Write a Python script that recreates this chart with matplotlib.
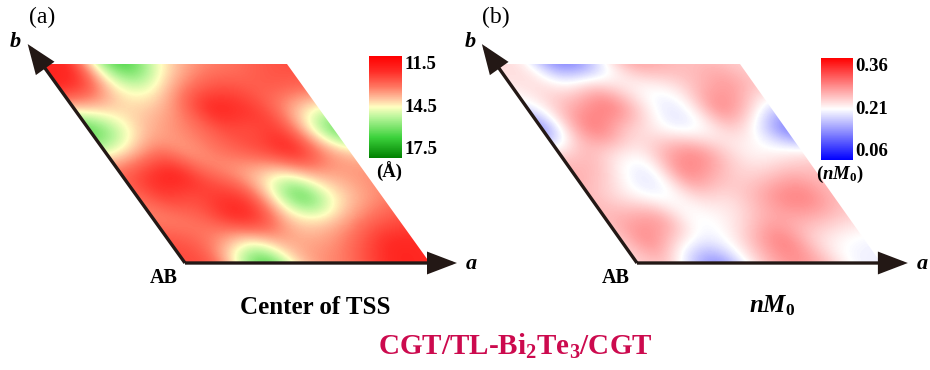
import numpy as np
import matplotlib
matplotlib.use("Agg")
import matplotlib.pyplot as plt
from matplotlib.colors import LinearSegmentedColormap, Normalize
from matplotlib.transforms import Affine2D
from matplotlib.patches import Polygon

plt.rcParams['font.family'] = ['Liberation Serif', 'DejaVu Serif']
plt.rcParams['mathtext.fontset'] = 'custom'
plt.rcParams['mathtext.it'] = 'Liberation Serif:italic:bold'
plt.rcParams['mathtext.rm'] = 'Liberation Serif:bold'
plt.rcParams['mathtext.bf'] = 'Liberation Serif:bold'

# values on a 10x10 grid of the rhombic cell, rows = b index (bottom -> top), cols = a index
tss_center = np.array([
    [12.8, 12.8, 15.0, 16.8, 14.3, 13.5, 13.3, 12.5, 12.2, 12.4],
    [12.8, 13.0, 13.5, 14.5, 14.0, 13.8, 13.6, 13.0, 12.2, 12.3],
    [13.5, 13.5, 13.0, 12.0, 12.5, 14.3, 14.3, 13.8, 13.2, 12.8],
    [13.2, 12.4, 13.0, 12.6, 12.4, 14.5, 16.8, 14.8, 14.0, 13.5],
    [13.0, 12.3, 11.9, 13.0, 13.6, 14.0, 14.5, 14.0, 13.8, 13.5],
    [14.8, 14.0, 13.1, 13.8, 13.3, 13.0, 12.5, 12.0, 13.5, 14.0],
    [16.6, 15.3, 14.0, 13.5, 13.3, 12.8, 13.0, 12.5, 14.3, 16.5],
    [14.0, 14.2, 14.3, 14.0, 13.2, 12.0, 12.3, 12.8, 13.8, 14.5],
    [12.0, 12.5, 14.5, 15.0, 14.0, 13.2, 12.8, 13.0, 12.8, 13.0],
    [12.5, 12.0, 15.0, 16.8, 15.0, 14.0, 13.5, 13.3, 13.0, 12.8],
])

nm0 = np.array([
    [0.235, 0.25, 0.17, 0.12, 0.21, 0.262, 0.275, 0.25, 0.198, 0.205],
    [0.235, 0.30, 0.235, 0.198, 0.21, 0.262, 0.30, 0.235, 0.21, 0.198],
    [0.25, 0.262, 0.29, 0.21, 0.205, 0.225, 0.262, 0.262, 0.25, 0.235],
    [0.25, 0.22, 0.198, 0.21, 0.235, 0.22, 0.25, 0.29, 0.295, 0.25],
    [0.262, 0.25, 0.198, 0.19, 0.30, 0.262, 0.225, 0.235, 0.262, 0.25],
    [0.235, 0.262, 0.225, 0.21, 0.262, 0.30, 0.25, 0.205, 0.21, 0.235],
    [0.11, 0.25, 0.31, 0.235, 0.21, 0.19, 0.21, 0.245, 0.185, 0.10],
    [0.198, 0.235, 0.275, 0.31, 0.25, 0.19, 0.205, 0.30, 0.262, 0.185],
    [0.225, 0.23, 0.21, 0.25, 0.225, 0.21, 0.22, 0.25, 0.28, 0.25],
    [0.23, 0.23, 0.13, 0.12, 0.21, 0.275, 0.262, 0.245, 0.25, 0.235],
])

# colorbar ticks, listed top -> bottom as shown
ticks_a = [11.5, 14.5, 17.5]
ticks_b = [0.36, 0.21, 0.06]

cmap_a = LinearSegmentedColormap.from_list('tss', [
    (0.0, '#ff0000'), (0.15, '#ff2c26'), (0.30, '#ff7560'), (0.42, '#ffc4a0'),
    (0.5, '#ffffc0'), (0.60, '#b8f59a'), (0.80, '#3cd23c'), (1.0, '#008000')])
cmap_b = LinearSegmentedColormap.from_list('nm', ['#0000ff', '#ffffff', '#ff0000'])

DARK = '#231815'


def draw_cell(ax, grid, cmap, norm, origin, avec, bvec):
    n = grid.shape[0] - 1
    h = 0.5 / n
    im = ax.imshow(grid, cmap=cmap, norm=norm, origin='lower',
                   extent=(-h, 1 + h, -h, 1 + h), interpolation='bicubic',
                   interpolation_stage='data')
    trans = Affine2D(np.array([[avec[0], bvec[0], origin[0]],
                               [avec[1], bvec[1], origin[1]],
                               [0, 0, 1]])) + ax.transData
    im.set_transform(trans)
    clip = Polygon([(0, 0), (1, 0), (1, 1), (0, 1)], closed=True, transform=trans)
    im.set_clip_path(clip)

    ox, oy = origin
    a_tip = (ox + 1.11 * avec[0], oy)
    b_tip = (ox + 1.10 * bvec[0], oy + 1.10 * bvec[1])
    for tip in (a_tip, b_tip):
        ax.annotate('', xy=tip, xytext=origin,
                    arrowprops=dict(arrowstyle='-|>,head_length=1.7,head_width=0.65',
                                    lw=2.4, color=DARK, shrinkA=0, shrinkB=0,
                                    joinstyle='miter', capstyle='butt'))
    ax.text(a_tip[0] + 14, oy + 1, 'a', fontsize=16, fontweight='bold',
            fontstyle='italic', ha='center', va='center')
    ax.text(b_tip[0] - 12, b_tip[1] - 2, 'b', fontsize=16, fontweight='bold',
            fontstyle='italic', ha='center', va='center')
    ax.text(ox - 21, oy + 15, 'AB', fontsize=14.5, fontweight='bold',
            ha='center', va='center')
    return im


def draw_cbar(fig, im, rect, ticks, unit, flip):
    cax = fig.add_axes(rect)
    cb = fig.colorbar(im, cax=cax)
    cb.outline.set_visible(False)
    if flip:
        cax.invert_yaxis()
    cax.set_yticks([])
    for t, va in zip(ticks, ['top', 'center', 'bottom']):
        cax.text(1.08, t, f'{t:g}' if t >= 1 else f'{t:.2f}',
                 transform=cax.get_yaxis_transform(),
                 fontsize=13.5, fontweight='bold', ha='left', va=va)
    cax.text(0.6, -0.04, unit, transform=cax.transAxes, fontsize=13.5,
             fontweight='bold', ha='center', va='top')
    return cb


fig = plt.figure(figsize=(9.3, 3.7), dpi=100)
ax = fig.add_axes([0, 0, 1, 1])

im_a = draw_cell(ax, tss_center, cmap_a, Normalize(11.5, 17.5),
                 (185, 263), (245, 0), (-143, -199))
im_b = draw_cell(ax, nm0, cmap_b, Normalize(0.06, 0.36),
                 (637, 263), (244, 0), (-141, -199))

ax.set_xlim(0, 930)
ax.set_ylim(370, 0)
ax.set_aspect('auto')
ax.axis('off')

draw_cbar(fig, im_a, [369 / 930, (370 - 158) / 370, 33 / 930, 102 / 370],
          ticks_a, u'(Å)', flip=True)
draw_cbar(fig, im_b, [821 / 930, (370 - 160) / 370, 32 / 930, 102 / 370],
          ticks_b, r'$(nM_0)$', flip=False)

ax.text(42, 17, '(a)', fontsize=17, ha='center', va='center')
ax.text(496, 17, '(b)', fontsize=17, ha='center', va='center')
ax.text(315, 314, 'Center of TSS', fontsize=18, fontweight='bold',
        ha='center', va='baseline')
ax.text(772, 312, r'$nM_0$', fontsize=18, ha='center', va='baseline')
ax.text(515, 355, r'CGT/TL-Bi$_2$Te$_3$/CGT', fontsize=21, fontweight='bold',
        color='#cc0a4e', ha='center', va='baseline')

fig.savefig('out.png', dpi=100)
